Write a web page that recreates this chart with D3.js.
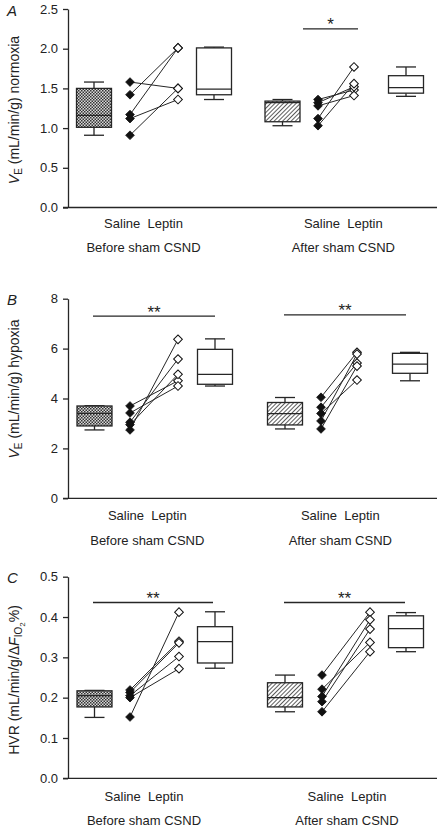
<!DOCTYPE html>
<html><head><meta charset="utf-8">
<script src="https://cdn.jsdelivr.net/npm/d3@7"></script>
<style>
body{margin:0;background:#fff}
svg{display:block}
text{font-family:"Liberation Sans",Arial,Helvetica,sans-serif;fill:#222}
</style>
</head><body>
<svg id="chart" width="437" height="829"></svg>
<script>
// ---------------- DATA ----------------
const groupLabels = ["Before sham CSND", "After sham CSND"];
const treatmentLabel = "Saline  Leptin";
const panelLetters = ["A", "B", "C"];

// Panel A – VE normoxia
const aTicks = [0, 0.5, 1.0, 1.5, 2.0, 2.5];
const aBeforeSaline = [1.58, 1.42, 1.17, 1.12, 0.91];
const aBeforeLeptin = [1.50, 2.01, 2.01, 1.36, 1.50];
const aAfterSaline  = [1.36, 1.32, 1.28, 1.12, 1.03];
const aAfterLeptin  = [1.48, 1.52, 1.41, 1.77, 1.56];
// box stats: [min, q1, median, q3, max]
const aBoxBeforeSaline = [0.91, 1.01, 1.16, 1.50, 1.58];
const aBoxBeforeLeptin = [1.36, 1.42, 1.49, 2.01, 2.02];
const aBoxAfterSaline  = [1.03, 1.08, 1.32, 1.34, 1.36];
const aBoxAfterLeptin  = [1.40, 1.44, 1.51, 1.66, 1.77];
const aSig = [{group: 1, value: 2.25, label: "*"}];

// Panel B – VE hypoxia
const bTicks = [0, 2, 4, 6, 8];
const bBeforeSaline = [3.70, 3.42, 3.05, 2.95, 2.74];
const bBeforeLeptin = [4.71, 4.50, 5.58, 4.97, 6.37];
const bAfterSaline  = [4.05, 3.65, 3.40, 3.10, 2.78];
const bAfterLeptin  = [5.85, 5.42, 4.74, 5.78, 5.30];
const bBoxBeforeSaline = [2.74, 2.90, 3.40, 3.70, 3.71];
const bBoxBeforeLeptin = [4.50, 4.57, 4.97, 5.97, 6.39];
const bBoxAfterSaline  = [2.78, 2.94, 3.39, 3.84, 4.04];
const bBoxAfterLeptin  = [4.71, 5.01, 5.38, 5.81, 5.85];
const bSig = [{group: 0, value: 7.3, label: "**"}, {group: 1, value: 7.35, label: "**"}];

// Panel C – HVR
const cTicks = [0, 0.1, 0.2, 0.3, 0.4, 0.5];
const cBeforeSaline = [0.219, 0.213, 0.205, 0.200, 0.152];
const cBeforeLeptin = [0.340, 0.336, 0.302, 0.272, 0.412];
const cAfterSaline  = [0.256, 0.221, 0.203, 0.190, 0.165];
const cAfterLeptin  = [0.412, 0.337, 0.393, 0.370, 0.314];
const cBoxBeforeSaline = [0.151, 0.177, 0.205, 0.217, 0.218];
const cBoxBeforeLeptin = [0.273, 0.286, 0.339, 0.376, 0.413];
const cBoxAfterSaline  = [0.165, 0.177, 0.200, 0.237, 0.256];
const cBoxAfterLeptin  = [0.314, 0.324, 0.371, 0.403, 0.411];
const cSig = [{group: 0, value: 0.436, label: "**"}, {group: 1, value: 0.436, label: "**"}];

// ---------------- LAYOUT ----------------
const panels = [
  {letter: panelLetters[0], ticks: aTicks, fmt: d3.format(".1f"), top: 9, zero: 207.5,
   slots: [94, 130, 178, 214, 282.5, 318, 354, 406], sigX: [[93, 215], [303, 358]],
   labelX: [143.5, 343.3], labelY: [227.5, 252], ylabY: 110, ylab: "normoxia",
   before: [aBeforeSaline, aBeforeLeptin], after: [aAfterSaline, aAfterLeptin],
   boxes: [aBoxBeforeSaline, aBoxBeforeLeptin, aBoxAfterSaline, aBoxAfterLeptin], sig: aSig},
  {letter: panelLetters[1], ticks: bTicks, fmt: d3.format("d"), top: 298.7, zero: 498.3,
   slots: [94.5, 130, 178, 215, 285, 321, 357, 410], sigX: [[93, 215], [284, 406]],
   labelX: [147.3, 340.3], labelY: [520, 544.5], ylabY: 389, ylab: "hypoxia",
   before: [bBeforeSaline, bBeforeLeptin], after: [bAfterSaline, bAfterLeptin],
   boxes: [bBoxBeforeSaline, bBoxBeforeLeptin, bBoxAfterSaline, bBoxAfterLeptin], sig: bSig},
  {letter: panelLetters[2], ticks: cTicks, fmt: d3.format(".1f"), top: 576.7, zero: 778.3,
   slots: [94.5, 130, 179, 215, 285, 322, 370, 406], sigX: [[93, 213], [284, 405]],
   labelX: [144, 347], labelY: [801, 825], ylabY: 680, ylab: "HVR",
   before: [cBeforeSaline, cBeforeLeptin], after: [cAfterSaline, cAfterLeptin],
   boxes: [cBoxBeforeSaline, cBoxBeforeLeptin, cBoxAfterSaline, cBoxAfterLeptin], sig: cSig}
];

const svg = d3.select("#chart");
const ink = "#262626";
const defs = svg.append("defs");

// checker pattern (saline before)
const chk = defs.append("pattern").attr("id", "checker").attr("patternUnits", "userSpaceOnUse")
  .attr("width", 3).attr("height", 3);
chk.append("rect").attr("width", 3).attr("height", 3).attr("fill", "#d8d8d8");
chk.append("rect").attr("x", 0).attr("y", 0).attr("width", 1.5).attr("height", 1.5).attr("fill", "#333");
chk.append("rect").attr("x", 1.5).attr("y", 1.5).attr("width", 1.5).attr("height", 1.5).attr("fill", "#333");

// diagonal hatch (saline after)
const hat = defs.append("pattern").attr("id", "hatch").attr("patternUnits", "userSpaceOnUse")
  .attr("width", 3).attr("height", 3).attr("patternTransform", "rotate(45)");
hat.append("rect").attr("width", 3).attr("height", 3).attr("fill", "#fff");
hat.append("line").attr("x1", 0).attr("y1", 0).attr("x2", 0).attr("y2", 3)
  .attr("stroke", "#333").attr("stroke-width", 1.6);

const boxSlots = [0, 3, 4, 7];
const boxFills = ["url(#checker)", "#fff", "url(#hatch)", "#fff"];
const diamond = d3.symbol().type(d3.symbolSquare).size(38);

panels.forEach(p => {
  const y = d3.scaleLinear().domain([d3.min(p.ticks), d3.max(p.ticks)]).range([p.zero, p.top]);
  const x = d3.scaleLinear().domain([0, 1]).range([0, 1]);
  const g = svg.append("g");

  // y axis
  const ax = g.append("g").attr("transform", "translate(68,0)")
    .call(d3.axisLeft(y).tickValues(p.ticks).tickFormat(p.fmt).tickSize(5).tickSizeOuter(0).tickPadding(5));
  ax.select(".domain").attr("stroke", ink).attr("stroke-width", 1.3);
  ax.selectAll(".tick line").attr("stroke", ink).attr("stroke-width", 1.3);
  ax.selectAll(".tick text").attr("font-size", 13).attr("fill", "#222")
    .style("font-family", '"Liberation Sans",Arial,sans-serif');

  // x axis line
  g.append("line").attr("x1", 63).attr("x2", 437).attr("y1", y(0)).attr("y2", y(0))
    .attr("stroke", ink).attr("stroke-width", 1.3);

  // panel letter
  g.append("text").attr("x", 7).attr("y", p.top + 6.5).attr("font-size", 15)
    .attr("font-style", "italic").text(p.letter);

  // y label
  const yl = g.append("text").attr("transform", `translate(19,${p.ylabY}) rotate(-90)`)
    .attr("text-anchor", "middle").attr("font-size", 14);
  if (p.ylab === "HVR") {
    yl.append("tspan").text("HVR (mL/min/g/\u0394");
    yl.append("tspan").attr("font-style", "italic").text("F");
    yl.append("tspan").attr("font-size", 10).attr("dy", 3).text("IO");
    yl.append("tspan").attr("font-size", 8).attr("dy", 2.5).text("2");
    yl.append("tspan").attr("dy", -5.5).text("%)");
  } else {
    yl.append("tspan").attr("font-style", "italic").text("V");
    yl.append("tspan").attr("font-size", 10).attr("dy", 3).text("E");
    yl.append("tspan").attr("dy", -3).text(" (mL/min/g) " + p.ylab);
  }

  // x labels
  [0, 1].forEach(i => {
    g.append("text").attr("x", p.labelX[i]).attr("y", p.labelY[0]).attr("text-anchor", "middle")
      .attr("font-size", 13).style("white-space", "pre").text(treatmentLabel);
    g.append("text").attr("x", p.labelX[i]).attr("y", p.labelY[1]).attr("text-anchor", "middle")
      .attr("font-size", 13).text(groupLabels[i]);
  });

  // boxes
  p.boxes.forEach((b, i) => {
    const cx = x(p.slots[boxSlots[i]]);
    const hw = 17.5, cw = 10;
    const bg = g.append("g").attr("stroke", ink).attr("stroke-width", 1.3);
    bg.append("line").attr("x1", cx).attr("x2", cx).attr("y1", y(b[3])).attr("y2", y(b[4]));
    bg.append("line").attr("x1", cx).attr("x2", cx).attr("y1", y(b[1])).attr("y2", y(b[0]));
    bg.append("line").attr("x1", cx - cw).attr("x2", cx + cw).attr("y1", y(b[4])).attr("y2", y(b[4]));
    bg.append("line").attr("x1", cx - cw).attr("x2", cx + cw).attr("y1", y(b[0])).attr("y2", y(b[0]));
    bg.append("rect").attr("x", cx - hw).attr("width", 2 * hw)
      .attr("y", y(b[3])).attr("height", y(b[1]) - y(b[3])).attr("fill", boxFills[i]);
    bg.append("line").attr("x1", cx - hw).attr("x2", cx + hw).attr("y1", y(b[2])).attr("y2", y(b[2]));
  });

  // paired points
  [[p.before, 1, 2], [p.after, 5, 6]].forEach(([pair, s1, s2]) => {
    const x1 = x(p.slots[s1]), x2 = x(p.slots[s2]);
    pair[0].forEach((v, k) => {
      g.append("line").attr("x1", x1).attr("y1", y(v)).attr("x2", x2).attr("y2", y(pair[1][k]))
        .attr("stroke", ink).attr("stroke-width", 1);
    });
    pair[0].forEach(v => {
      g.append("path").attr("d", diamond).attr("transform", `translate(${x1},${y(v)}) rotate(45)`)
        .attr("fill", "#111").attr("stroke", "#111").attr("stroke-width", 0.8);
    });
    pair[1].forEach(v => {
      g.append("path").attr("d", diamond).attr("transform", `translate(${x2},${y(v)}) rotate(45)`)
        .attr("fill", "#fff").attr("stroke", "#111").attr("stroke-width", 1);
    });
  });

  // significance bars
  p.sig.forEach(s => {
    const [sx1, sx2] = p.sigX[s.group];
    g.append("line").attr("x1", sx1).attr("x2", sx2).attr("y1", y(s.value)).attr("y2", y(s.value))
      .attr("stroke", ink).attr("stroke-width", 1.3);
    g.append("text").attr("x", (sx1 + sx2) / 2).attr("y", y(s.value) + 1.5)
      .attr("text-anchor", "middle").attr("font-size", 17).text(s.label);
  });
});
</script>
</body></html>
